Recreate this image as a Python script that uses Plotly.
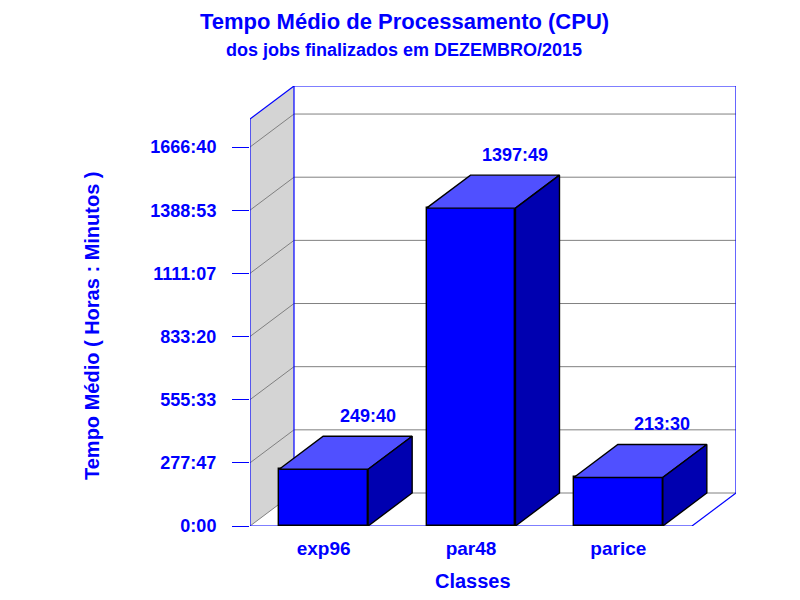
import plotly.graph_objects as go

# data
categories = ["exp96", "par48", "parice"]
values_hm = ["249:40", "1397:49", "213:30"]  # horas:minutos
tick_hours = [0, 277.78, 555.56, 833.33, 1111.11, 1388.89, 1666.67]
tick_labels = ["0:00", "277:47", "555:33", "833:20", "1111:07", "1388:53", "1666:40"]

values = [int(s.split(":")[0]) + int(s.split(":")[1]) / 60 for s in values_hm]

# page body margin of the browser (px)
OFF = 8
W, H = 800 - OFF, 600 - OFF

# pseudo-3d box geometry (pixels, in the reference picture)
PLOT_L, PLOT_B = 250 - OFF, 526 - OFF
FRONT_W, FRONT_H = 442, 407
DEPTH_X, DEPTH_Y = 44, 33
Y_TOP = 1790  # value at the top of the front plane
BAR_W = 0.604

dx = len(categories) * DEPTH_X / FRONT_W
dy = Y_TOP * DEPTH_Y / FRONT_H
x0, x1 = -0.5, len(categories) - 0.5

BLUE = "#0000FF"
TOP_C = "#5050FF"
SIDE_C = "#0000B0"
GRID = "#808080"
FONT = "Liberation Sans, Arial, sans-serif"

fig = go.Figure()

# top and side faces of the bars
for i, v in enumerate(values):
    l, r = i - BAR_W / 2, i + BAR_W / 2
    fig.add_trace(go.Scatter(
        x=[l, r, r + dx, l + dx, l], y=[v, v, v + dy, v + dy, v],
        mode="lines", fill="toself", fillcolor=TOP_C,
        line=dict(color="black", width=1.4), hoverinfo="skip", showlegend=False))
    fig.add_trace(go.Scatter(
        x=[r, r + dx, r + dx, r, r], y=[0, dy, v + dy, v, 0],
        mode="lines", fill="toself", fillcolor=SIDE_C,
        line=dict(color="black", width=1.4), hoverinfo="skip", showlegend=False))

# front faces
fig.add_trace(go.Bar(
    x=list(range(len(categories))), y=values, width=BAR_W,
    marker=dict(color=BLUE, line=dict(color="black", width=1.4)),
    hoverinfo="skip", showlegend=False))

shapes = []
# left wall
shapes.append(dict(type="path", layer="below", line=dict(width=0), fillcolor="#D4D4D4",
                   path=f"M {x0} 0 L {x0} {Y_TOP} L {x0 + dx} {Y_TOP + dy} L {x0 + dx} {dy} Z"))
# grid
for v in tick_hours:
    shapes.append(dict(type="line", layer="below", x0=x0, y0=v, x1=x0 + dx, y1=v + dy,
                       line=dict(color=GRID, width=1)))
    shapes.append(dict(type="line", layer="below", x0=x0 + dx, y0=v + dy, x1=x1 + dx, y1=v + dy,
                       line=dict(color=GRID, width=1)))
# box outline
edges = [
    (x0, 0, x0, Y_TOP),
    (x0, Y_TOP, x0 + dx, Y_TOP + dy),
    (x0 + dx, dy, x0 + dx, Y_TOP + dy),
    (x0 + dx, Y_TOP + dy, x1 + dx, Y_TOP + dy),
    (x1 + dx, dy, x1 + dx, Y_TOP + dy),
    (x0, 0, x1, 0),
    (x1, 0, x1 + dx, dy),
]
for a, b, c, d in edges:
    shapes.append(dict(type="line", layer="below", x0=a, y0=b, x1=c, y1=d,
                       line=dict(color=BLUE, width=1.2)))

annotations = []
for i, (v, s) in enumerate(zip(values, values_hm)):
    annotations.append(dict(x=i + dx, y=v + dy, text=f"<b>{s}</b>", showarrow=False, yshift=20,
                            font=dict(family=FONT, size=18, color=BLUE)))


def px(xp, yp):
    return (xp - OFF - PLOT_L) / (FRONT_W + DEPTH_X), (PLOT_B - (yp - OFF)) / (FRONT_H + DEPTH_Y)


for text, xp, yp, size, ang, yanc in [
    ("<b>Tempo Médio de Processamento (CPU)</b>", 404, OFF, 22, 0, "top"),
    ("<b>dos jobs finalizados em DEZEMBRO/2015</b>", 404, 50, 18, 0, "middle"),
    ("<b>Classes</b>", 473, 581, 20, 0, "middle"),
    ("<b>Tempo Médio ( Horas : Minutos )</b>", 92, 326, 20, -90, "middle"),
]:
    ax, ay = px(xp, yp)
    annotations.append(dict(x=ax, y=ay, xref="paper", yref="paper", text=text, showarrow=False,
                            textangle=ang, xanchor="center", yanchor=yanc, borderpad=0,
                            font=dict(family=FONT, size=size, color=BLUE)))

fig.update_layout(
    width=W, height=H,
    margin=dict(l=PLOT_L, r=W - PLOT_L - FRONT_W - DEPTH_X, t=PLOT_B - FRONT_H - DEPTH_Y, b=H - PLOT_B),
    paper_bgcolor="white", plot_bgcolor="rgba(0,0,0,0)",
    font=dict(family=FONT, color=BLUE),
    xaxis=dict(range=[x0, x1 + dx], tickvals=list(range(len(categories))),
               ticktext=[f"<b>{c}</b>" for c in categories],
               showgrid=False, zeroline=False, showline=False, ticks="", ticklabelstandoff=9,
               tickfont=dict(family=FONT, size=19, color=BLUE), fixedrange=True),
    yaxis=dict(range=[0, Y_TOP + dy], tickvals=tick_hours, ticktext=[f"<b>{t}</b>" for t in tick_labels],
               showgrid=False, zeroline=False, showline=False, ticks="outside", ticklen=17,
               tickcolor=BLUE, tickwidth=1.2, ticklabelstandoff=12,
               tickfont=dict(family=FONT, size=18, color=BLUE), fixedrange=True),
    shapes=shapes, annotations=annotations, bargap=0,
)

fig.write_html("out.html")
